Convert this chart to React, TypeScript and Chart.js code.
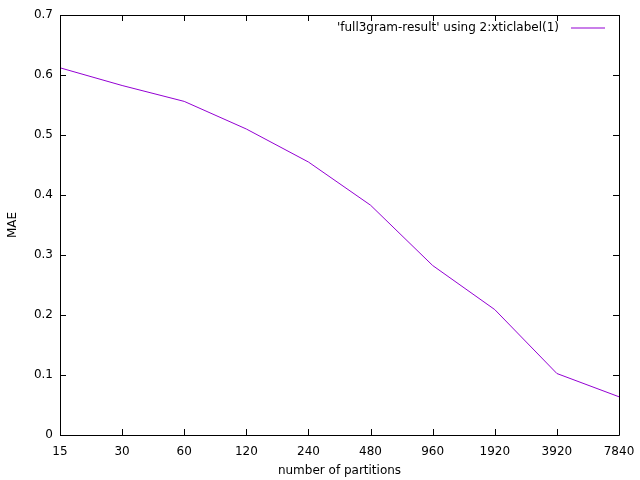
import React, { useEffect, useRef } from "react";
import { Chart, registerables } from "chart.js";

Chart.register(...registerables);

const categories = ["15", "30", "60", "120", "240", "480", "960", "1920", "3920", "7840"];
const maeValues = [0.612, 0.5825, 0.556, 0.51, 0.455, 0.383, 0.2825, 0.209, 0.1025, 0.0637];
const yTicks = [0, 0.1, 0.2, 0.3, 0.4, 0.5, 0.6, 0.7];
const seriesLabel = "'full3gram-result' using 2:xticlabel(1)";
const xTitle = "number of partitions";
const yTitle = "MAE";

const FONT = "DejaVu Sans, sans-serif";
const LINE_COLOR = "#9400D3";

const framePlugin = {
  id: "gnuplotFrame",
  afterDraw(chart: any) {
    const { ctx, chartArea, scales } = chart;
    const { left, right, top, bottom } = chartArea;
    const x = scales.x;
    const y = scales.y;
    ctx.save();
    ctx.strokeStyle = "#000";
    ctx.lineWidth = 1;
    // frame
    ctx.beginPath();
    ctx.rect(Math.round(left) + 0.5, Math.round(top) + 0.5, Math.round(right - left), Math.round(bottom - top));
    ctx.stroke();
    const tl = 6;
    ctx.beginPath();
    // y ticks (left and mirrored right)
    yTicks.forEach((v) => {
      const py = Math.round(y.getPixelForValue(v)) + 0.5;
      ctx.moveTo(left, py);
      ctx.lineTo(left + tl, py);
      ctx.moveTo(right, py);
      ctx.lineTo(right - tl, py);
    });
    // x ticks (bottom and mirrored top)
    categories.forEach((_, i) => {
      const px = Math.round(x.getPixelForValue(i)) + 0.5;
      ctx.moveTo(px, bottom);
      ctx.lineTo(px, bottom - tl);
      ctx.moveTo(px, top);
      ctx.lineTo(px, top + tl);
    });
    ctx.stroke();

    // key (gnuplot style: text then line sample)
    const ky = top + 13;
    const sampleRight = right - 14;
    const sampleLeft = sampleRight - 34;
    ctx.font = "12px " + FONT;
    ctx.fillStyle = "#000";
    ctx.textAlign = "right";
    ctx.textBaseline = "middle";
    ctx.fillText(seriesLabel, sampleLeft - 12, ky);
    ctx.strokeStyle = LINE_COLOR;
    ctx.lineWidth = 1.2;
    ctx.beginPath();
    ctx.moveTo(sampleLeft, Math.round(ky));
    ctx.lineTo(sampleRight, Math.round(ky));
    ctx.stroke();
    ctx.restore();
  },
};

export default function App() {
  const canvasRef = useRef<HTMLCanvasElement>(null);

  useEffect(() => {
    const canvas = canvasRef.current;
    if (!canvas) return;
    const chart = new Chart(canvas, {
      type: "line",
      data: {
        labels: categories,
        datasets: [
          {
            label: seriesLabel,
            data: maeValues,
            borderColor: LINE_COLOR,
            backgroundColor: LINE_COLOR,
            borderWidth: 1,
            pointRadius: 0,
            tension: 0,
            fill: false,
          },
        ],
      },
      options: {
        responsive: false,
        animation: false,
        maintainAspectRatio: false,
        layout: { padding: { top: 15, right: 21, left: 0, bottom: 0 } },
        plugins: {
          legend: { display: false },
          tooltip: { enabled: false },
        },
        scales: {
          x: {
            type: "category",
            offset: false,
            grid: { display: false, drawTicks: false },
            border: { display: false },
            ticks: {
              color: "#000",
              font: { family: FONT, size: 12 },
              padding: 10,
              maxRotation: 0,
              autoSkip: false,
            },
            title: {
              display: true,
              text: xTitle,
              color: "#000",
              font: { family: FONT, size: 12 },
              padding: { top: 0, bottom: 2 },
            },
            afterFit(scale: any) {
              scale.height = 45;
              scale.paddingLeft = 0;
              scale.paddingRight = 0;
            },
          },
          y: {
            type: "linear",
            min: 0,
            max: 0.7,
            grid: { display: false, drawTicks: false },
            border: { display: false },
            afterBuildTicks(scale: any) {
              scale.ticks = yTicks.map((v) => ({ value: v }));
            },
            ticks: {
              color: "#000",
              font: { family: FONT, size: 12 },
              padding: 7,
              callback: (v: any) => String(Number(v)),
            },
            title: {
              display: true,
              text: yTitle,
              color: "#000",
              font: { family: FONT, size: 12 },
              padding: { top: 6, bottom: 0 },
            },
            afterFit(scale: any) {
              scale.width = 60;
              scale.paddingTop = 0;
              scale.paddingBottom = 0;
            },
          },
        },
      },
      plugins: [framePlugin],
    });
    return () => chart.destroy();
  }, []);

  return (
    <div style={{ position: "fixed", left: 0, top: 0, width: 640, height: 480, background: "#fff" }}>
      <canvas ref={canvasRef} width={640} height={480} style={{ display: "block" }} />
    </div>
  );
}
